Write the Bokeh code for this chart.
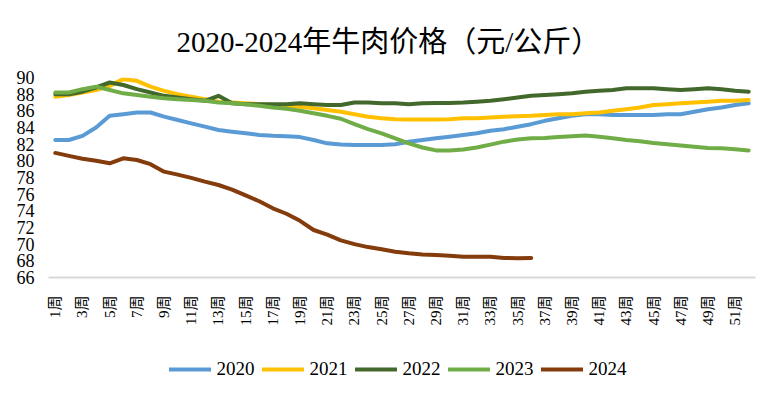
import math
from bokeh.plotting import figure
from bokeh.layouts import column
from bokeh.models import Legend, LegendItem, FixedTicker, Range1d
from bokeh.embed import file_html
from bokeh.resources import INLINE

weeks = list(range(1, 53))
tick_weeks = list(range(1, 53, 2))
y_ticks = list(range(66, 91, 2))

years = ["2020", "2021", "2022", "2023", "2024"]
title_text = "2020-2024年牛肉价格（元/公斤）"

price_2020 = [82.5, 82.5, 83.0, 84.0, 85.4, 85.6, 85.8, 85.8, 85.3, 84.9,
              84.5, 84.1, 83.7, 83.5, 83.3, 83.1, 83.0, 82.95, 82.85, 82.5,
              82.1, 81.95, 81.9, 81.9, 81.9, 82.0, 82.3, 82.5, 82.7, 82.9,
              83.1, 83.3, 83.6, 83.8, 84.1, 84.4, 84.8, 85.1, 85.4, 85.6,
              85.6, 85.5, 85.5, 85.5, 85.5, 85.6, 85.6, 85.9, 86.2, 86.4,
              86.7, 86.9]
price_2021 = [87.7, 87.9, 88.2, 88.5, 89.0, 89.8, 89.6, 88.9, 88.4, 88.0,
              87.7, 87.4, 87.1, 87.0, 86.9, 86.8, 86.7, 86.6, 86.5, 86.3,
              86.1, 85.9, 85.6, 85.3, 85.1, 85.0, 84.95, 84.95, 84.95, 85.0,
              85.1, 85.1, 85.2, 85.3, 85.35, 85.4, 85.5, 85.6, 85.6, 85.7,
              85.8, 86.0, 86.2, 86.4, 86.7, 86.8, 86.9, 87.0, 87.1, 87.2,
              87.2, 87.3]
price_2022 = [88.0, 88.0, 88.3, 88.8, 89.4, 89.1, 88.6, 88.2, 87.8, 87.6,
              87.4, 87.2, 87.8, 86.9, 86.8, 86.8, 86.8, 86.8, 86.9, 86.8,
              86.7, 86.7, 87.0, 87.0, 86.9, 86.9, 86.8, 86.9, 86.95, 86.95,
              87.0, 87.1, 87.2, 87.4, 87.6, 87.8, 87.9, 88.0, 88.1, 88.3,
              88.4, 88.5, 88.7, 88.7, 88.7, 88.6, 88.5, 88.6, 88.7, 88.6,
              88.4, 88.3]
price_2023 = [88.2, 88.2, 88.6, 88.9, 88.5, 88.1, 87.9, 87.7, 87.5, 87.4,
              87.3, 87.2, 87.0, 86.9, 86.8, 86.6, 86.4, 86.25, 86.0, 85.7,
              85.4, 85.05, 84.4, 83.8, 83.3, 82.7, 82.1, 81.6, 81.25, 81.25,
              81.35, 81.6, 81.95, 82.3, 82.55, 82.7, 82.75, 82.85, 82.95, 83.05,
              82.9, 82.7, 82.5, 82.35, 82.15, 82.0, 81.85, 81.7, 81.55, 81.5,
              81.4, 81.25]
price_2024 = [80.95, 80.6, 80.25, 80.0, 79.7, 80.3, 80.1, 79.6, 78.7, 78.35,
              77.95, 77.5, 77.1, 76.55, 75.85, 75.15, 74.3, 73.65, 72.8, 71.7,
              71.15, 70.45, 70.0, 69.65, 69.4, 69.1, 68.9, 68.75, 68.7, 68.6,
              68.5, 68.5, 68.5, 68.35, 68.3, 68.35]

series = [price_2020, price_2021, price_2022, price_2023, price_2024]
colors = ["#5B9BD5", "#FFC000", "#43682B", "#70AD47", "#843C0C"]

SERIF = "'Liberation Serif', 'Times New Roman', 'Noto Sans CJK SC', serif"

# ---- main chart ----
p = figure(frame_width=707, frame_height=200, output_backend="svg",
           toolbar_location=None,
           x_range=Range1d(0.5, 52.5), y_range=Range1d(66, 90),
           min_border_left=48, min_border_right=24, min_border_top=77,
           min_border_bottom=68)
p.title.text = title_text
p.title.align = "left"
p.title.offset = 128
p.title.text_font = SERIF
p.title.text_font_size = "29px"
p.title.text_font_style = "normal"
p.title.text_color = "#000000"
p.title.standoff = 40

p.outline_line_color = None
p.xgrid.grid_line_color = None
p.ygrid.grid_line_color = None

for vals, c in zip(series, colors):
    p.line(weeks[:len(vals)], vals, line_color=c, line_width=4,
           line_join="round", line_cap="round")

xa = p.xaxis[0]
xa.ticker = FixedTicker(ticks=tick_weeks)
xa.major_label_overrides = {w: f"{w}周" for w in tick_weeks}
xa.major_label_orientation = math.pi / 2
xa.major_label_text_font = SERIF
xa.major_label_text_font_size = "15px"
xa.major_label_text_color = "#000000"
xa.major_tick_line_color = None
xa.minor_tick_line_color = None
xa.axis_line_color = "#D9D9D9"
xa.axis_line_width = 2
xa.major_label_standoff = 12

ya = p.yaxis[0]
ya.ticker = FixedTicker(ticks=y_ticks)
ya.major_label_text_font = SERIF
ya.major_label_text_font_size = "18px"
ya.major_label_text_color = "#000000"
ya.major_tick_line_color = None
ya.minor_tick_line_color = None
ya.axis_line_color = None
ya.major_label_standoff = 8

# ---- legend strip ----
lg = figure(width=779, height=48, output_backend="svg", toolbar_location=None,
            x_range=Range1d(0, 1), y_range=Range1d(0, 1),
            min_border_left=0, min_border_right=32, min_border_top=0,
            min_border_bottom=0)
lg.axis.visible = False
lg.xgrid.grid_line_color = None
lg.ygrid.grid_line_color = None
lg.outline_line_color = None

items = []
for name, c in zip(years, colors):
    r = lg.line([-2, -1], [-2, -2], line_color=c, line_width=4, line_cap="round")
    items.append(LegendItem(label=name, renderers=[r]))

legend = Legend(items=items, orientation="horizontal", location="center",
                glyph_width=42, glyph_height=18, label_standoff=6, spacing=7,
                label_text_font=SERIF, label_text_font_size="19px",
                label_text_color="#000000",
                border_line_color=None, background_fill_alpha=0,
                margin=0, padding=4)
lg.add_layout(legend, "center")

layout = column(p, lg, spacing=0)
open("out.html", "w").write(file_html(layout, INLINE))
